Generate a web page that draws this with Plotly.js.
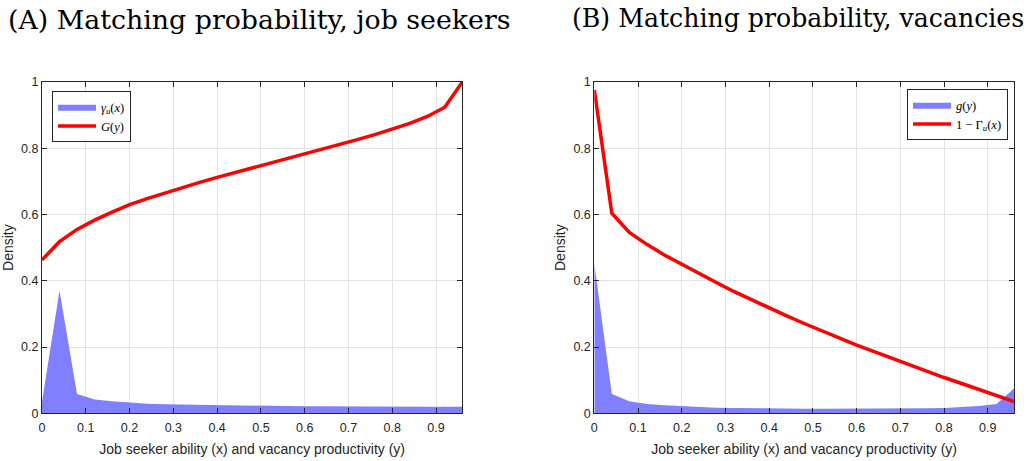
<!DOCTYPE html>
<html>
<head>
<meta charset="utf-8">
<script src="https://cdn.plot.ly/plotly-3.0.1.min.js"></script>
<style>html,body{margin:0;padding:0;background:#fff;}#chart{width:1027px;height:461px;}</style>
</head>
<body>
<div id="chart"></div>
<script>
// grid of ability / productivity values
const xGrid = [0,0.04,0.08,0.12,0.16,0.20,0.24,0.28,0.32,0.36,0.40,0.44,0.48,0.52,0.56,0.60,0.64,0.68,0.72,0.76,0.80,0.84,0.88,0.92,0.96];
// Panel A
const gammaU = [0.035,0.370,0.058,0.042,0.036,0.032,0.029,0.027,0.026,0.025,0.024,0.023,0.0225,0.022,0.0215,0.021,0.021,0.0205,0.0205,0.020,0.020,0.020,0.020,0.020,0.020];
const G = [0.463,0.518,0.555,0.583,0.607,0.630,0.648,0.665,0.681,0.697,0.712,0.726,0.740,0.754,0.768,0.782,0.796,0.811,0.826,0.841,0.857,0.875,0.896,0.924,1.0];
// Panel B
const gY = [0.453,0.058,0.036,0.028,0.024,0.021,0.019,0.017,0.016,0.015,0.0145,0.014,0.014,0.0135,0.0135,0.0135,0.014,0.014,0.0145,0.015,0.016,0.018,0.022,0.028,0.075];
const oneMinusGamma = [0.976,0.604,0.546,0.510,0.478,0.449,0.421,0.394,0.367,0.342,0.318,0.294,0.271,0.249,0.227,0.206,0.186,0.166,0.147,0.128,0.108,0.090,0.071,0.053,0.035];

const titles = ["(A) Matching probability, job seekers", "(B) Matching probability, vacancies"];
const xLabel = "Job seeker ability (x) and vacancy productivity (y)";
const yLabel = "Density";
const xTicks = [0,0.1,0.2,0.3,0.4,0.5,0.6,0.7,0.8,0.9];
const yTicks = [0,0.2,0.4,0.6,0.8,1];

const blue = "rgb(128,128,255)";
const red = "rgb(255,0,0)";

const traces = [
  {x:xGrid, y:gammaU, type:"scatter", mode:"lines", fill:"tozeroy", fillcolor:blue, line:{width:0,color:blue},
   name:"<i>γ</i><sub><i>u</i></sub>(<i>x</i>)", xaxis:"x", yaxis:"y", legend:"legend"},
  {x:xGrid, y:G, type:"scatter", mode:"lines", line:{width:3.5,color:red},
   name:"<i>G</i>(<i>y</i>)", xaxis:"x", yaxis:"y", legend:"legend"},
  {x:xGrid, y:gY, type:"scatter", mode:"lines", fill:"tozeroy", fillcolor:blue, line:{width:0,color:blue},
   name:"<i>g</i>(<i>y</i>)", xaxis:"x2", yaxis:"y2", legend:"legend2"},
  {x:xGrid, y:oneMinusGamma, type:"scatter", mode:"lines", line:{width:3.5,color:red},
   name:"1 − Γ<sub><i>u</i></sub>(<i>x</i>)", xaxis:"x2", yaxis:"y2", legend:"legend2"}
];

const W = 1027, H = 461;
const sans = "Liberation Sans, Arial, sans-serif";
const axCommon = {
  showline:true, linecolor:"#262626", linewidth:1, mirror:"ticks",
  ticks:"inside", ticklen:5, tickcolor:"#262626",
  showgrid:true, gridcolor:"#e3e3e3", gridwidth:1, zeroline:false,
  tickfont:{family:sans, size:12.5, color:"#262626"},
  fixedrange:true
};
const yDom = [1-413.3/H, 1-82/H];
const xAx = (dom, anchor) => Object.assign({}, axCommon, {
  domain:dom, anchor:anchor, range:[0,0.96], tickvals:xTicks, ticktext:xTicks.map(String),
  ticklabelstandoff:3,
  title:{text:xLabel, font:{family:sans, size:14, color:"#262626"}, standoff:9}
});
const yAx = (anchor) => Object.assign({}, axCommon, {
  domain:yDom, anchor:anchor, range:[0,1], tickvals:yTicks, ticktext:yTicks.map(String),
  title:{text:yLabel, font:{family:sans, size:14, color:"#262626"}, standoff:4}
});

const legendStyle = {
  bgcolor:"#ffffff", bordercolor:"#262626", borderwidth:1,
  font:{family:"Liberation Serif, serif", size:12.5, color:"#000"},
  itemwidth:38, tracegroupgap:0
};

const layout = {
  width:W, height:H,
  margin:{l:0, r:0, t:0, b:0},
  paper_bgcolor:"#ffffff", plot_bgcolor:"#ffffff",
  showlegend:true,
  xaxis: xAx([42/W, 462.3/W], "y"),
  yaxis: yAx("x"),
  xaxis2: xAx([594.3/W, 1014/W], "y2"),
  yaxis2: yAx("x2"),
  legend: Object.assign({}, legendStyle, {x:52/W, y:1-91/H, xref:"paper", yref:"paper", xanchor:"left", yanchor:"top"}),
  legend2: Object.assign({}, legendStyle, {x:1008/W, y:1-89/H, xref:"paper", yref:"paper", xanchor:"right", yanchor:"top"}),
  annotations: [
    {text:titles[0], x:6/W, y:1-2/H, xref:"paper", yref:"paper", xanchor:"left", yanchor:"top", showarrow:false,
     font:{family:"DejaVu Serif, serif", size:26.8, color:"#000"}},
    {text:titles[1], x:570/W, y:1-2/H, xref:"paper", yref:"paper", xanchor:"left", yanchor:"top", showarrow:false,
     font:{family:"DejaVu Serif, serif", size:25.2, color:"#000"}}
  ]
};

Plotly.newPlot("chart", traces, layout, {staticPlot:true, displayModeBar:false});
</script>
</body>
</html>
